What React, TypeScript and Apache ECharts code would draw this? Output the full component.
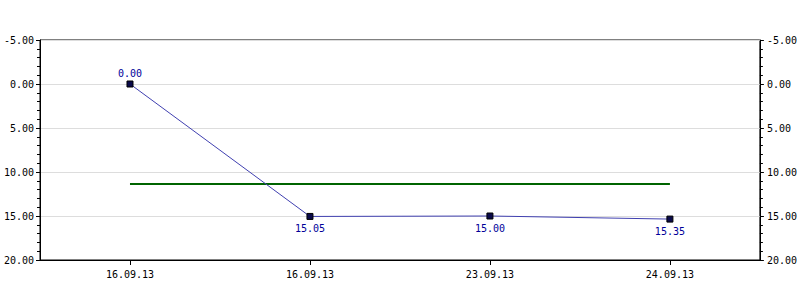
import React, { useEffect, useRef } from "react";
import * as echarts from "echarts";

const categories = ["16.09.13", "16.09.13", "23.09.13", "24.09.13"];
const values = [0.0, 15.05, 15.0, 15.35];
const avgLine = [11.36, 11.36, 11.36, 11.36];
const labelPositions = ["top", "bottom", "bottom", "bottom"];

const FONT = "DejaVu Sans Mono";
const LABEL_COLOR = "#000099";

export default function App() {
  const ref = useRef<HTMLDivElement>(null);
  useEffect(() => {
    if (!ref.current) return;
    const chart = echarts.init(ref.current, null, { renderer: "svg" });
    const yAxisBase = (pos: "left" | "right") => ({
      type: "value",
      position: pos,
      inverse: true,
      min: -5,
      max: 20,
      interval: 5,
      axisLine: { show: true, onZero: false, lineStyle: { color: "#000", width: 1 } },
      axisTick: { show: true, length: 4, lineStyle: { color: "#000" } },
      minorTick: { show: true, splitNumber: 5, length: 3, lineStyle: { color: "#000" } },
      axisLabel: {
        color: "#000",
        fontFamily: FONT,
        fontSize: 10,
        margin: pos === "left" ? 6 : 7,
        formatter: (v: number) => v.toFixed(2),
      },
      splitLine: { show: pos === "left", lineStyle: { color: "#dddddd", width: 1 } },
    });
    chart.setOption({
      animation: false,
      grid: {
        left: 40,
        right: 40,
        top: 40,
        bottom: 40,
        show: true,
        borderColor: "#000",
        borderWidth: 1,
        backgroundColor: "transparent",
      },
      xAxis: {
        type: "category",
        data: categories,
        boundaryGap: true,
        axisLine: { show: true, onZero: false, lineStyle: { color: "#000", width: 1 } },
        axisTick: { show: true, alignWithLabel: true, length: 5, lineStyle: { color: "#000" } },
        axisLabel: { color: "#000", fontFamily: FONT, fontSize: 10, margin: 9 },
        splitLine: { show: false },
      },
      yAxis: [yAxisBase("left"), yAxisBase("right")],
      series: [
        {
          type: "line",
          data: avgLine,
          showSymbol: false,
          symbol: "none",
          lineStyle: { color: "#006400", width: 2 },
          z: 1,
          silent: true,
        },
        {
          type: "line",
          data: values.map((v, i) => ({
            value: v,
            label: {
              position: labelPositions[i],
              color: LABEL_COLOR,
              distance: labelPositions[i] === "top" ? 2 : 4,
            },
          })),
          symbol: "rect",
          symbolSize: 6,
          itemStyle: { color: "#0a0a4a", borderColor: "#000", borderWidth: 1 },
          lineStyle: { color: "#4040b0", width: 1 },
          label: {
            show: true,
            color: LABEL_COLOR,
            fontFamily: FONT,
            fontSize: 10,
            distance: 4,
            formatter: (p: any) => Number(p.value).toFixed(2),
          },
          z: 2,
        },
      ],
    });
    return () => chart.dispose();
  }, []);
  return (
    <div
      ref={ref}
      style={{ position: "fixed", left: 0, top: 0, width: 800, height: 300, background: "#fff" }}
    />
  );
}
